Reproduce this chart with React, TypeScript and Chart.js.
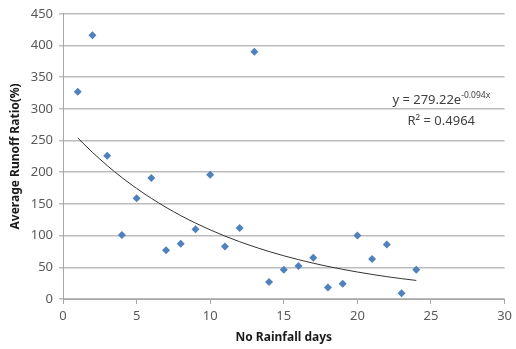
import React, { useEffect, useRef } from "react";
import { Chart, registerables } from "chart.js";

Chart.register(...registerables);

const days = [1, 2, 3, 4, 5, 6, 7, 8, 9, 10, 11, 12, 13, 14, 15, 16, 17, 18, 19, 20, 21, 22, 23, 24];
const runoffRatio = [327, 416, 226, 101, 159, 191, 77, 87, 110, 196, 83, 112, 390, 27, 46, 52, 65, 18, 24, 100, 63, 86, 9, 46];
const trendX = [1, 2, 3, 4, 5, 6, 7, 8, 9, 10, 11, 12, 13, 14, 15, 16, 17, 18, 19, 20, 21, 22, 23, 24];
const trendY = [254.2, 231.4, 210.6, 191.7, 174.5, 158.9, 144.6, 131.6, 119.8, 109.1, 99.3, 90.4, 82.3, 74.9, 68.2, 62.1, 56.5, 51.4, 46.8, 42.6, 38.8, 35.3, 32.1, 29.3];
const xTicks = [0, 5, 10, 15, 20, 25, 30];
const yTicks = [0, 50, 100, 150, 200, 250, 300, 350, 400, 450];
const eqMain = "y = 279.22e";
const eqExp = "-0.094x";
const r2Text = "R\u00B2 = 0.4964";

const FONT = "'Noto Sans', 'Open Sans', sans-serif";

export default function App() {
  const ref = useRef<HTMLCanvasElement | null>(null);
  useEffect(() => {
    document.body.style.margin = "0";
    const canvas = ref.current!;
    const eqPlugin = {
      id: "eqPlugin",
      afterDatasetsDraw(chart: any) {
        const { ctx, scales } = chart;
        const xs = scales.x;
        const ys = scales.y;
        const cx = xs.getPixelForValue(25.7);
        const y1 = ys.getPixelForValue(313);
        const y2 = ys.getPixelForValue(281);
        ctx.save();
        ctx.fillStyle = "#404040";
        ctx.textBaseline = "middle";
        ctx.font = `13px ${FONT}`;
        const wMain = ctx.measureText(eqMain).width;
        ctx.font = `8.5px ${FONT}`;
        const wExp = ctx.measureText(eqExp).width;
        const start = cx - (wMain + wExp) / 2;
        ctx.font = `13px ${FONT}`;
        ctx.textAlign = "left";
        ctx.fillText(eqMain, start, y1);
        ctx.font = `8.5px ${FONT}`;
        ctx.fillText(eqExp, start + wMain, y1 - 5);
        ctx.font = `13px ${FONT}`;
        ctx.textAlign = "center";
        ctx.fillText(r2Text, cx, y2);
        ctx.restore();
      },
    };
    const chart = new Chart(canvas, {
      type: "scatter",
      data: {
        datasets: [
          {
            label: "Runoff",
            data: days.map((d, i) => ({ x: d, y: runoffRatio[i] })),
            pointStyle: "rectRot",
            pointRadius: 4,
            backgroundColor: "#4f81bd",
            borderColor: "#4f81bd",
            borderWidth: 0,
            order: 1,
          },
          {
            type: "line",
            label: "Trend",
            data: trendX.map((d, i) => ({ x: d, y: trendY[i] })),
            borderColor: "#333333",
            borderWidth: 1,
            pointRadius: 0,
            tension: 0.4,
            cubicInterpolationMode: "monotone",
            fill: false,
            order: 2,
          } as any,
        ],
      },
      plugins: [eqPlugin],
      options: {
        animation: false,
        responsive: false,
        layout: { padding: { top: 13, right: 9, left: 0, bottom: 0 } },
        plugins: { legend: { display: false }, tooltip: { enabled: false } },
        scales: {
          x: {
            type: "linear",
            min: 0,
            max: 30,
            afterBuildTicks: (s: any) => {
              s.ticks = xTicks.map((v) => ({ value: v }));
            },
            afterFit: (s: any) => {
              s.height = 50;
            },
            grid: {
              display: true,
              drawOnChartArea: false,
              drawTicks: true,
              tickLength: 5,
              color: "#a6a6a6",
            },
            border: { display: true, color: "#a6a6a6", width: 1 },
            ticks: {
              color: "#595959",
              font: { family: FONT, size: 13 },
              padding: 4,
              maxRotation: 0,
            },
            title: {
              display: true,
              text: "No Rainfall days",
              color: "#1a1a1a",
              font: { family: FONT, size: 12, weight: "bold" },
              padding: { top: 2, bottom: 4 },
            },
          },
          y: {
            type: "linear",
            min: 0,
            max: 450,
            afterBuildTicks: (s: any) => {
              s.ticks = yTicks.map((v) => ({ value: v }));
            },
            afterFit: (s: any) => {
              s.width = 63;
            },
            grid: {
              display: true,
              drawTicks: true,
              tickLength: 4,
              color: "#bcbcbc",
              lineWidth: 1.5,
            },
            border: { display: true, color: "#a6a6a6", width: 1 },
            ticks: {
              color: "#595959",
              font: { family: FONT, size: 13 },
              padding: 6,
            },
            title: {
              display: true,
              text: "Average Runoff Ratio(%)",
              color: "#1a1a1a",
              font: { family: FONT, size: 12, weight: "bold" },
              padding: { top: 8, bottom: 2 },
            },
          },
        },
      },
    } as any);
    return () => chart.destroy();
  }, []);
  return (
    <div style={{ position: "absolute", left: 0, top: 0, width: 516, height: 349, background: "#fff" }}>
      <canvas ref={ref} width={516} height={349} style={{ width: 516, height: 349 }} />
    </div>
  );
}
